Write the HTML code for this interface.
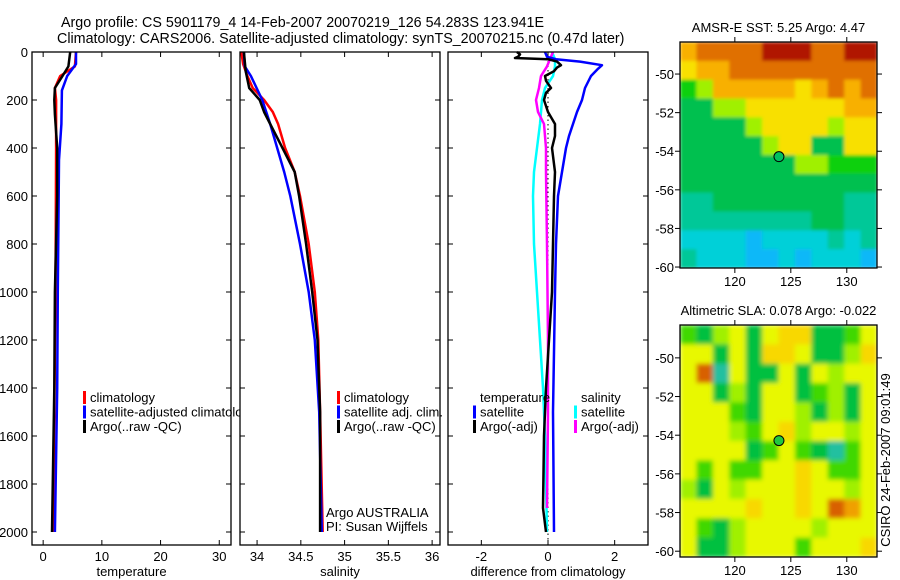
<!DOCTYPE html>
<html><head><meta charset="utf-8"><style>
html,body{margin:0;padding:0;background:#fff;}
svg{display:block;font-family:"Liberation Sans",sans-serif;}
text{font-size:13px;fill:#000;}
</style></head><body>
<svg id="fig" width="900" height="580" viewBox="0 0 900 580" xmlns="http://www.w3.org/2000/svg">
<defs>
<filter id="blurSst" filterUnits="userSpaceOnUse" x="680" y="42" width="197" height="226"><feGaussianBlur stdDeviation="1.5" edgeMode="duplicate"/></filter>
<filter id="blurSla" filterUnits="userSpaceOnUse" x="680" y="325" width="197" height="232"><feGaussianBlur stdDeviation="2.5" edgeMode="duplicate"/></filter>
</defs>
<rect width="900" height="580" fill="#fff"/>
<text x="61" y="27" style="font-size:14.3px">Argo profile: CS 5901179_4 14-Feb-2007 20070219_126 54.283S 123.941E</text>
<text x="57" y="43" style="font-size:14.3px">Climatology: CARS2006. Satellite-adjusted climatology: synTS_20070215.nc (0.47d later)</text>
<g id="panels"></g>
<text transform="translate(890,460) rotate(-90)" text-anchor="middle">CSIRO 24-Feb-2007 09:01:49</text>
</svg>
<script>
// ---- profile data (depth in m) ----
const tClimDepth=[0,60,100,150,200,400,1000,1500,2000];
const tClimVal=[5.6,5.4,2.9,2.0,2.2,2.2,2.1,1.9,1.7];
const tSatDepth=[0,50,100,160,300,450,1000,1400,2000];
const tSatVal=[5.6,5.6,4.1,3.2,3.1,2.7,2.5,2.4,2.0];
const tArgoDepth=[0,60,100,150,200,260,400,600,1000,1400,2000];
const tArgoVal=[4.6,4.3,3.3,2.0,1.9,2.0,2.4,2.4,2.0,1.9,1.5];
const sClimDepth=[0,50,100,150,200,250,300,400,500,600,800,1000,1200,1500,2000];
const sClimVal=[33.82,33.84,33.89,33.95,34.08,34.18,34.24,34.32,34.43,34.49,34.59,34.66,34.70,34.72,34.75];
const sSatDepth=[0,60,100,200,300,400,500,600,800,1000,1200,1500,2000];
const sSatVal=[33.85,33.86,33.93,34.06,34.15,34.23,34.31,34.38,34.49,34.59,34.66,34.71,34.74];
const sArgoDepth=[0,80,150,200,250,300,400,500,600,800,1000,1200,1500,2000];
const sArgoVal=[33.85,33.87,33.91,34.03,34.08,34.15,34.29,34.43,34.48,34.56,34.63,34.69,34.72,34.72];
const dTSatDepth=[0,20,30,40,55,70,100,150,200,250,300,350,400,500,600,800,1000,1500,2000];
const dTSatVal=[-0.09,-0.03,0.24,0.96,1.62,1.50,1.29,1.11,1.02,0.87,0.75,0.63,0.54,0.42,0.30,0.24,0.21,0.15,0.18];
const dTArgoDepth=[0,10,20,25,30,40,55,65,80,100,120,150,170,200,250,300,350,400,500,600,1000,1400,1600,1900,2000];
const dTArgoVal=[-0.93,-0.84,-0.90,-0.99,0,0.27,0.39,0.27,0.18,-0.09,-0.06,0.09,-0.06,-0.12,0,0.21,0.21,0.12,0.21,0.18,0.12,-0.06,-0.12,-0.15,-0.06];
const dSSatDepth=[0,30,60,100,150,200,300,400,500,600,800,1000,1200,1400,1600,2000];
const dSSatVal=[0.12,0.21,0.21,0.15,-0.09,-0.18,-0.24,-0.33,-0.42,-0.45,-0.42,-0.33,-0.24,-0.15,-0.09,-0.03];
const dSArgoDepth=[0,30,60,100,150,200,250,300,400,500,800,1200,1500,1900];
const dSArgoVal=[0.15,0.06,-0.03,-0.21,-0.27,-0.36,-0.30,-0.12,-0.06,-0.06,-0.03,0,0,-0.03];
const depthTicks=[0,200,400,600,800,1000,1200,1400,1600,1800,2000];
const tempTicks=[0,10,20,30];
const salTicks=[34,34.5,35,35.5,36];
const diffTicks=[-2,0,2];
// ---- map data ----
const mapLonTicks=[120,125,130];
const mapLatTicks=[-50,-52,-54,-56,-58,-60];
const argoLon=123.94, argoLat=-54.28;
const sstGrid=["788889998899","677888888888","457777767878","335566666677","333356666566","333335663366","333333355444","333333333333","223333333322","222222223322","111101111212","211100101110"];
const slaGrid=["213414551124","441415541135","470411414344","441314412314","444214431314","444324534434","444412421024","424224454224","314344454434","444454454764","421344443444","411344424445"];
const sstColors=["#10b8f8","#00d0d8","#00c898","#00c050","#10d010","#a0f000","#f8e000","#f8b000","#e07000","#b01800"];
const slaColors=["#20c0a0","#00c040","#40d800","#a0f000","#e8f800","#f8d800","#f0a000","#d86000"];

const NS="http://www.w3.org/2000/svg";
const root=document.getElementById('panels');
function mk(tag,attrs,parent){const e=document.createElementNS(NS,tag);for(const k in attrs)e.setAttribute(k,attrs[k]);(parent||root).appendChild(e);return e;}
function txt(s,x,y,anchor,parent){const t=mk('text',{x:x,y:y,'text-anchor':anchor||'start'},parent);t.textContent=s;return t;}

const Y0=52,Y1=545,DMAX=(Y1-Y0)/0.24;
function yD(d){return Y0+d/DMAX*(Y1-Y0);}

function panel(name,x0,w,vmin,vmax,ticks,fmt,xtitle,showY){
  const g=mk('g',{});
  
  
  mk('rect',{x:x0,y:Y0,width:w,height:Y1-Y0,fill:'#fff'},g);
  const xs=v=>x0+(v-vmin)/(vmax-vmin)*w;
  const ax=mk('g',{},g);
  
  
  ticks.forEach(v=>{const x=xs(v);
    mk('line',{x1:x,x2:x,y1:Y1,y2:Y1-5,stroke:'#000'},ax);
    mk('line',{x1:x,x2:x,y1:Y0,y2:Y0+5,stroke:'#000'},ax);
    txt(fmt(v),x,Y1+16,'middle',ax);});
  const tt=txt(xtitle,x0+w/2,Y1+31,'middle',ax);
  
  
  const ay=mk('g',{},g);
  
  
  depthTicks.forEach(d=>{const y=yD(d);
    mk('line',{x1:x0,x2:x0+5,y1:y,y2:y,stroke:'#000'},ay);
    mk('line',{x1:x0+w,x2:x0+w-5,y1:y,y2:y,stroke:'#000'},ay);
    if(showY)txt(String(d),x0-4,y+5,'end',ay);});
  return {g,xs,x0,w};
}
function series(p,name,depths,vals,color){
  const pts=depths.map((d,i)=>p.xs(vals[i]).toFixed(1)+','+yD(d).toFixed(1)).join(' ');
  const l=mk('polyline',{points:pts,fill:'none',stroke:color,'stroke-width':2.5,'stroke-linejoin':'round'},p.g);
  
  
}
function frame(p){mk('rect',{x:p.x0,y:Y0,width:p.w,height:Y1-Y0,fill:'none',stroke:'#000','stroke-width':1.3},p.g);}
function legend(g,name,x,y,items){
  const lg=mk('g',{},g);
  
  
  items.forEach((it,i)=>{const yy=y+i*14.5;
    if(it[1])mk('rect',{x:x,y:yy-6,width:3,height:13,fill:it[1]},lg);
    const t=txt(it[0],x+7,yy+5,'start',lg);
    
    });
}

const p1=panel('temperature-panel',32,199,-1.9,32,tempTicks,v=>String(v),'temperature',true);
series(p1,'temp-climatology-line',tClimDepth,tClimVal,'#ff0000');
series(p1,'temp-satellite-line',tSatDepth,tSatVal,'#0000ff');
series(p1,'temp-argo-line',tArgoDepth,tArgoVal,'#000000');
legend(p1.g,'temperature-legend',83,397,[['climatology','#ff0000'],['satellite-adjusted climatology','#0000ff'],['Argo(..raw -QC)','#000']]);
frame(p1);
const p2=panel('salinity-panel',240,200,33.805,36.09,salTicks,v=>String(v),'salinity',false);
series(p2,'sal-climatology-line',sClimDepth,sClimVal,'#ff0000');
series(p2,'sal-satellite-line',sSatDepth,sSatVal,'#0000ff');
series(p2,'sal-argo-line',sArgoDepth,sArgoVal,'#000000');
legend(p2.g,'salinity-legend',337,397,[['climatology','#ff0000'],['satellite adj. clim.','#0000ff'],['Argo(..raw -QC)','#000']]);
const a1=txt('Argo AUSTRALIA',326,517,'start',p2.g);


const a2=txt('PI: Susan Wijffels',326,531,'start',p2.g);


frame(p2);
const p3=panel('difference-panel',448,200,-3,3,diffTicks,v=>String(v),'difference from climatology',false);
const zl=mk('line',{x1:p3.xs(0),x2:p3.xs(0),y1:Y0,y2:Y1,stroke:'#000','stroke-dasharray':'1.5,3'},p3.g);


series(p3,'diff-sal-satellite-line',dSSatDepth,dSSatVal,'#00ffff');
series(p3,'diff-sal-argo-line',dSArgoDepth,dSArgoVal,'#ff00ff');
series(p3,'diff-temp-satellite-line',dTSatDepth,dTSatVal,'#0000ff');
series(p3,'diff-temp-argo-line',dTArgoDepth,dTArgoVal,'#000000');
legend(p3.g,'diff-temp-legend',473,397,[['temperature',null],['satellite','#0000ff'],['Argo(-adj)','#000']]);
legend(p3.g,'diff-sal-legend',574,397,[['salinity',null],['satellite','#00ffff'],['Argo(-adj)','#ff00ff']]);
frame(p3);

function map(name,title,grid,colors,y0,y1,latTop,latBot,filt,markFill){
  const x0=680,x1=877,lonL=115.1,lonR=132.7;
  const g=mk('g',{});
  
  
  const xs=lon=>x0+(lon-lonL)/(lonR-lonL)*(x1-x0);
  const ys=lat=>y0+(latTop-lat)/(latTop-latBot)*(y1-y0);
  const cg=mk('g',{filter:'url(#'+filt+')'},g);
  
  
  const nr=grid.length,nc=grid[0].length;
  const dLon=(lonR-lonL)/nc,dLat=(latTop-latBot)/nr;
  for(let r=0;r<nr;r++)for(let c=0;c<nc;c++){
    const xa=xs(lonL+c*dLon),xb=xs(lonL+(c+1)*dLon),ya=ys(latTop-r*dLat),yb=ys(latTop-(r+1)*dLat);
    const cell=mk('rect',{x:xa,y:ya,width:xb-xa+0.6,height:yb-ya+0.6,fill:colors[+grid[r][c]]},cg);
    
    
  }
  mk('rect',{x:x0,y:y0,width:x1-x0,height:y1-y0,fill:'none',stroke:'#000','stroke-width':1.3},g);
  mapLonTicks.forEach(v=>{const x=xs(v);
    mk('line',{x1:x,x2:x,y1:y1,y2:y1+5,stroke:'#000'},g);
    mk('line',{x1:x,x2:x,y1:y0,y2:y0-5,stroke:'#000'},g);
    txt(String(v),x,y1+18,'middle',g);});
  mapLatTicks.forEach(v=>{const y=ys(v);
    mk('line',{x1:x0,x2:x0-5,y1:y,y2:y,stroke:'#000'},g);
    mk('line',{x1:x1,x2:x1+5,y1:y,y2:y,stroke:'#000'},g);
    txt(String(v),x0-6,y+5,'end',g);});
  const t=txt(title,(x0+x1)/2,y0-10,'middle',g);
  
  
  const m=mk('circle',{cx:xs(argoLon),cy:ys(argoLat),r:5,fill:markFill,stroke:'#000','stroke-width':1},g);
  
  
}
map('sst-map','AMSR-E SST: 5.25 Argo: 4.47',sstGrid,sstColors,42,268,-48.34,-60.05,'blurSst','#00c060');
map('sla-map','Altimetric SLA: 0.078 Argo: -0.022',slaGrid,slaColors,325,557,-48.3,-60.3,'blurSla','#20c840');
</script>
</body></html>
